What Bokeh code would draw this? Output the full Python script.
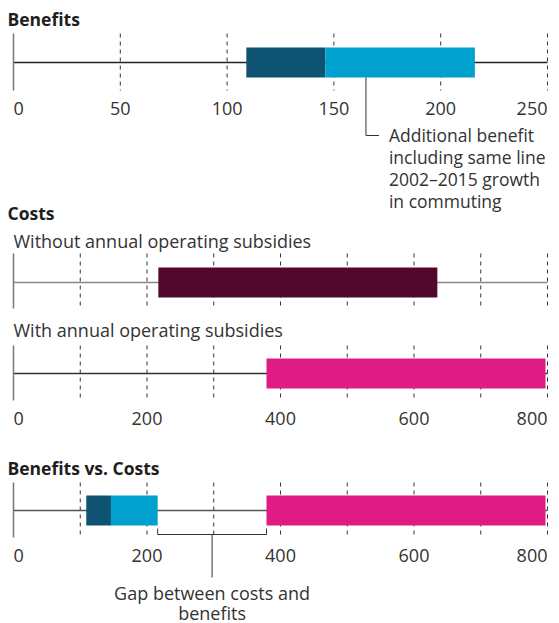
from bokeh.plotting import figure
from bokeh.models import Range1d
from bokeh.embed import file_html
from bokeh.resources import INLINE
from bokeh.core.properties import value

# ---------------- data ----------------
benefit_grid = [50, 100, 150, 200, 250]
benefit_label_values = [0, 50, 100, 150, 200, 250]
benefit_labels = ["0", "50", "100", "150", "200", "250"]
benefit_max = 250

benefit_base = [109, 146]          # base benefit range
benefit_additional = [146, 216]    # additional benefit incl. same-line growth
benefit_note_at = 165
benefit_note = ["Additional benefit", "including same line",
                "2002\u20132015 growth", "in commuting"]

cost_grid = [100, 200, 300, 400, 500, 600, 700, 800]
cost_label_values = [0, 200, 400, 600, 800]
cost_labels = ["0", "200", "400", "600", "800"]
cost_max = 800

cost_without = [217, 635]   # without annual operating subsidies
cost_with = [379, 797]      # with annual operating subsidies

gap_note = ["Gap between costs and", "benefits"]

# ---------------- layout ----------------
W, H = 559, 623
X0, X1 = 13, 547         # pixel positions of 0 and the scale maximum
FONT = value("Open Sans")

DARK_BLUE = "#0f5373"
LIGHT_BLUE = "#00a0cf"
PURPLE = "#52082c"
PINK = "#df1b84"
TXT = "#333333"


def scale_range(maxv):
    ppu = (X1 - X0) / maxv
    return Range1d(-X0 / ppu, maxv + (W - X1) / ppu)


p = figure(width=W, height=H, x_range=Range1d(0, W), y_range=Range1d(H, 0),
           output_backend="svg", toolbar_location=None, min_border=0)
p.axis.visible = False
p.grid.visible = False
p.outline_line_color = None
p.background_fill_color = None
p.border_fill_color = None
p.extra_x_ranges = {"ben": scale_range(benefit_max), "cost": scale_range(cost_max)}


def panel(rn, maxv, grid, y_top, y_bot, yc, base_color):
    p.segment(x0=grid, x1=grid, y0=[y_top] * len(grid), y1=[y_bot] * len(grid),
              line_color="#333333", line_width=1, line_dash="4 4", x_range_name=rn)
    p.segment(x0=[0], x1=[maxv], y0=[yc], y1=[yc], line_color=base_color,
              line_width=1.3, x_range_name=rn)
    p.segment(x0=[0], x1=[0], y0=[y_top], y1=[y_bot], line_color="#777777",
              line_width=1.5, x_range_name=rn)


def tick_labels(rn, vals, labels, y):
    kw = dict(text_baseline="middle", text_font=FONT, text_font_size="18px",
              text_color=TXT, x_range_name=rn)
    p.text(x=vals[:1], y=[y], text=labels[:1], text_align="left", **kw)
    p.text(x=vals[1:-1], y=[y] * (len(vals) - 2), text=labels[1:-1], text_align="center", **kw)
    p.text(x=vals[-1:], y=[y], text=labels[-1:], text_align="right", **kw)


def title(txt, y):
    p.text(x=[7], y=[y], text=[txt], text_align="left", text_baseline="middle",
           text_font=FONT, text_font_size="17.5px", text_font_style="bold", text_color="#1e1e1e")


def sub(txt, y):
    p.text(x=[0], y=[y], text=[txt], text_align="left", text_baseline="middle",
           text_font=FONT, text_font_size="18px", text_color=TXT, x_range_name="cost")


BAR_H = 30

# ---- Benefits ----
title("Benefits", 18)
yc = 62
panel("ben", benefit_max, benefit_grid, 33, 90, yc, "#222222")
p.hbar(y=[yc], left=[benefit_base[0]], right=[benefit_base[1]], height=BAR_H,
       fill_color=DARK_BLUE, line_color=None, x_range_name="ben")
p.hbar(y=[yc], left=[benefit_additional[0]], right=[benefit_additional[1]], height=BAR_H,
       fill_color=LIGHT_BLUE, line_color=None, x_range_name="ben")
tick_labels("ben", benefit_label_values, benefit_labels, 108)
hook = 13 / ((X1 - X0) / benefit_max)
p.segment(x0=[benefit_note_at], x1=[benefit_note_at], y0=[yc + BAR_H / 2], y1=[135],
          line_color="#333333", line_width=1, x_range_name="ben")
p.segment(x0=[benefit_note_at], x1=[benefit_note_at + hook], y0=[135], y1=[135],
          line_color="#333333", line_width=1, x_range_name="ben")
p.text(x=[benefit_note_at] * 4, y=[134, 156, 178, 200], text=benefit_note, x_offset=23,
       text_align="left", text_baseline="middle", text_font=FONT, text_font_size="17.5px",
       text_color=TXT, x_range_name="ben")

# ---- Costs ----
title("Costs", 212)
sub("Without annual operating subsidies", 240)
yc = 282
panel("cost", cost_max, cost_grid, 253, 308, yc, "#888888")
p.hbar(y=[yc], left=[cost_without[0]], right=[cost_without[1]], height=BAR_H,
       fill_color=PURPLE, line_color=None, x_range_name="cost")
sub("With annual operating subsidies", 329)
yc = 373
panel("cost", cost_max, cost_grid, 345, 400, yc, "#333333")
p.hbar(y=[yc], left=[cost_with[0]], right=[cost_with[1]], height=BAR_H,
       fill_color=PINK, line_color=None, x_range_name="cost")
tick_labels("cost", cost_label_values, cost_labels, 418)

# ---- Benefits vs. Costs ----
title("Benefits vs. Costs", 467)
yc = 510
panel("cost", cost_max, cost_grid, 482, 537, yc, "#555555")
p.hbar(y=[yc], left=[benefit_base[0]], right=[benefit_base[1]], height=BAR_H,
       fill_color=DARK_BLUE, line_color=None, x_range_name="cost")
p.hbar(y=[yc], left=[benefit_additional[0]], right=[benefit_additional[1]], height=BAR_H,
       fill_color=LIGHT_BLUE, line_color=None, x_range_name="cost")
p.hbar(y=[yc], left=[cost_with[0]], right=[cost_with[1]], height=BAR_H,
       fill_color=PINK, line_color=None, x_range_name="cost")
tick_labels("cost", cost_label_values, cost_labels, 555)

g0, g1 = benefit_additional[1], cost_with[0]
gm = (g0 + g1) / 2
p.segment(x0=[g0, g1, g0, gm], x1=[g0, g1, g1, gm], y0=[528, 528, 534, 534],
          y1=[534, 534, 534, 577], line_color="#333333", line_width=1, x_range_name="cost")
p.text(x=[gm, gm], y=[592, 612], text=gap_note, text_align="center", text_baseline="middle",
       text_font=FONT, text_font_size="18px", text_color=TXT, x_range_name="cost")

open("out.html", "w").write(file_html(p, INLINE))
